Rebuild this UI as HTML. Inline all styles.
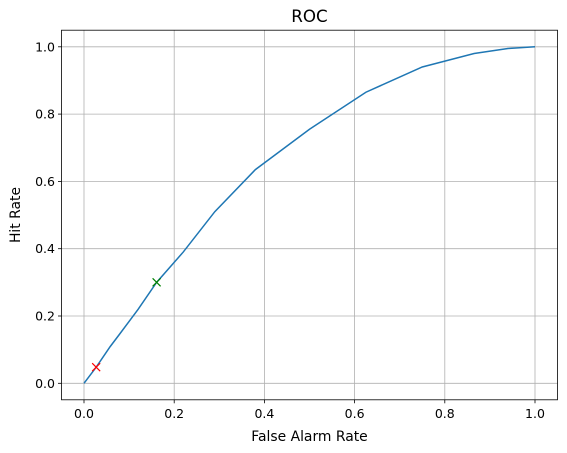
<!DOCTYPE html>
<html><head><meta charset="utf-8"><style>
body{margin:0;background:#fff}
svg{display:block;font-family:"DejaVu Sans","Liberation Sans",sans-serif}
</style></head><body>
<svg id="chart" width="567" height="453">
<rect x="61.5" y="30.2" width="496" height="369.6" fill="#fff"/>
<g id="grid"></g>
<g id="ticks"></g>
<polyline id="curve" fill="none" stroke="#1f77b4" stroke-width="1.5"/>
<g id="markers"></g>
<rect x="61.5" y="30.2" width="496" height="369.6" fill="none" stroke="#000" stroke-width="0.8"/>
<text x="309.5" y="22" text-anchor="middle" font-size="16.7">ROC</text>
<text x="309.5" y="441" text-anchor="middle" font-size="13.9">False Alarm Rate</text>
<text x="20" y="215" text-anchor="middle" font-size="13.9" transform="rotate(-90 20 215)">Hit Rate</text>
</svg>
<script>
const fpr=[0,0.027,0.058,0.08,0.12,0.161,0.22,0.29,0.38,0.5,0.625,0.75,0.865,0.94,1];
const tpr=[0,0.048,0.109,0.148,0.22,0.30,0.39,0.51,0.635,0.755,0.865,0.94,0.98,0.995,1];
const xTicks=[0,0.2,0.4,0.6,0.8,1.0];
const yTicks=[0,0.2,0.4,0.6,0.8,1.0];
const redPt=[0.027,0.048];
const greenPt=[0.161,0.30];
const X=v=>84+v*451, Y=v=>383.3-v*336.5;
const NS="http://www.w3.org/2000/svg";
const grid=document.getElementById('grid'),ticks=document.getElementById('ticks');
function mk(tag,attrs,parent){const e=document.createElementNS(NS,tag);for(const k in attrs)e.setAttribute(k,attrs[k]);parent.appendChild(e);return e;}
xTicks.forEach(t=>{
 const g=mk('line',{x1:X(t),x2:X(t),y1:30.2,y2:399.8,stroke:'#b0b0b0','stroke-width':0.8},grid);
 
 
 mk('line',{x1:X(t),x2:X(t),y1:399.8,y2:403.3,stroke:'#000','stroke-width':0.8},ticks);
 const l=mk('text',{x:X(t),y:418,'text-anchor':'middle','font-size':12.5},ticks);l.textContent=t.toFixed(1);
 
 
});
yTicks.forEach(t=>{
 const g=mk('line',{x1:61.5,x2:557.5,y1:Y(t),y2:Y(t),stroke:'#b0b0b0','stroke-width':0.8},grid);
 
 
 mk('line',{x1:58,x2:61.5,y1:Y(t),y2:Y(t),stroke:'#000','stroke-width':0.8},ticks);
 const l=mk('text',{x:55,y:Y(t)+4.5,'text-anchor':'end','font-size':12.5},ticks);l.textContent=t.toFixed(1);
 
 
});
document.getElementById('curve').setAttribute('points',fpr.map((f,i)=>X(f)+','+Y(tpr[i])).join(' '));
const m=document.getElementById('markers');
[[redPt,'red','red-marker'],[greenPt,'green','green-marker']].forEach(([p,c,n])=>{
 const cx=X(p[0]),cy=Y(p[1]),s=4;
 const g=mk('path',{d:`M${cx-s},${cy-s}L${cx+s},${cy+s}M${cx-s},${cy+s}L${cx+s},${cy-s}`,stroke:c,'stroke-width':1.2,fill:'none'},m);
 
 
});
</script>
</body></html>
